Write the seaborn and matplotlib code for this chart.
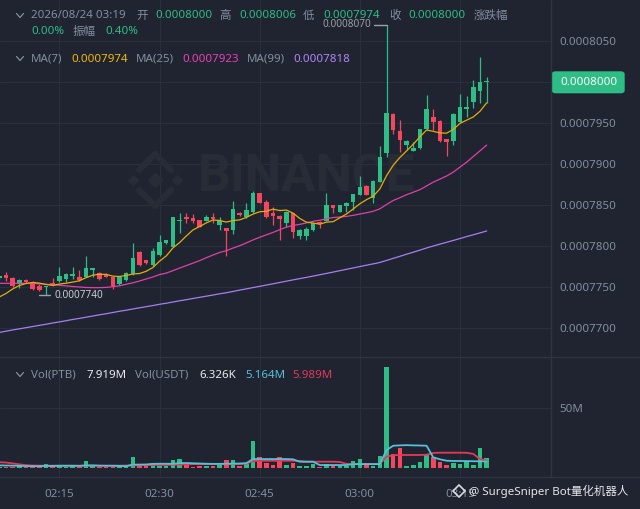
import numpy as np
import pandas as pd
import matplotlib
matplotlib.use("Agg")
import matplotlib.pyplot as plt
from matplotlib.lines import Line2D
from matplotlib.patches import FancyBboxPatch
import seaborn as sns

# prices are kept in units of 1e-7 USDT (0.0008000 -> 8000.0)
PRICE_UNIT = 1e-7
start_time = "2026-08-24 02:06"

open_ = [7760.6, 7764.6, 7760.6, 7753.3, 7758.5, 7756.5, 7751.6, 7749.6, 7755.2, 7757.3,
         7759.4, 7763.8, 7762.6, 7762.6, 7770.7, 7766.7, 7765.9, 7761.8, 7753.7, 7758.5,
         7765.6, 7793.1, 7782.9, 7776.8, 7789.0, 7803.3, 7799.1, 7830.1, 7835.0, 7834.5,
         7831.7, 7830.9, 7835.7, 7825.2, 7821.6, 7819.5, 7840.6, 7835.0, 7841.8, 7864.3,
         7854.0, 7839.9, 7836.6, 7827.7, 7839.9, 7812.2, 7812.2, 7819.5, 7829.6, 7830.5,
         7850.0, 7841.8, 7848.8, 7854.0, 7862.2, 7873.2, 7858.2, 7878.4, 7913.8, 7961.0,
         7940.6, 7922.8, 7916.2, 7919.1, 7942.3, 7957.7, 7952.8, 7930.1, 7928.0, 7951.6,
         7966.7, 7976.0, 7989.4, 8000.0]
high_ = [7764.6, 7767.9, 7761.6, 7759.8, 7759.8, 7757.3, 7753.3, 7751.6, 7760.6, 7774.8,
         7766.5, 7774.8, 7770.7, 7788.2, 7773.2, 7767.7, 7767.1, 7762.8, 7764.0, 7767.7,
         7803.3, 7793.9, 7783.5, 7797.2, 7813.4, 7807.9, 7835.6, 7840.6, 7839.9, 7839.0,
         7832.3, 7837.8, 7839.9, 7835.7, 7822.0, 7855.2, 7841.1, 7852.8, 7867.1, 7864.9,
         7856.1, 7847.2, 7837.2, 7842.4, 7840.2, 7820.4, 7823.5, 7828.4, 7830.9, 7864.3,
         7850.6, 7850.6, 7854.0, 7863.8, 7885.4, 7873.8, 7880.2, 7922.0, 8070.0, 7961.6,
         7953.7, 7929.0, 7927.2, 7942.9, 7984.1, 7966.7, 7953.4, 7930.7, 7961.6, 7985.4,
         7982.9, 8002.4, 8030.9, 8006.0]
low_ = [7758.5, 7757.3, 7750.6, 7748.4, 7754.5, 7746.7, 7745.1, 7740.0, 7751.2, 7756.5,
        7755.5, 7759.8, 7757.9, 7761.8, 7762.6, 7759.1, 7761.8, 7747.2, 7752.4, 7757.9,
        7764.9, 7776.2, 7778.3, 7776.2, 7788.4, 7802.7, 7798.5, 7815.5, 7827.7, 7828.4,
        7823.2, 7830.1, 7828.4, 7819.5, 7787.8, 7814.6, 7836.6, 7834.5, 7839.9, 7852.2,
        7833.8, 7825.6, 7807.3, 7823.5, 7809.4, 7808.2, 7807.3, 7818.9, 7821.6, 7829.9,
        7840.6, 7841.5, 7841.8, 7843.9, 7861.6, 7861.6, 7852.8, 7877.8, 7908.2, 7936.6,
        7915.0, 7917.1, 7915.9, 7918.5, 7941.7, 7941.5, 7927.4, 7909.8, 7923.2, 7951.0,
        7957.7, 7967.9, 7974.8, 7974.0]
close_ = [7763.4, 7760.6, 7751.6, 7758.5, 7755.7, 7747.6, 7746.0, 7751.6, 7752.4, 7763.4,
          7765.6, 7765.6, 7758.5, 7772.8, 7772.8, 7759.8, 7762.2, 7751.2, 7762.6, 7766.7,
          7785.7, 7776.8, 7778.9, 7794.3, 7805.2, 7807.3, 7835.0, 7831.7, 7832.6, 7830.9,
          7823.5, 7835.7, 7832.6, 7830.9, 7818.3, 7844.8, 7837.4, 7843.9, 7864.3, 7852.8,
          7835.0, 7836.6, 7832.6, 7841.8, 7817.4, 7819.5, 7820.4, 7827.7, 7826.8, 7850.0,
          7846.0, 7850.0, 7852.1, 7863.0, 7872.3, 7862.2, 7879.6, 7908.2, 7962.6, 7941.5,
          7929.3, 7928.4, 7919.1, 7942.3, 7966.7, 7951.6, 7928.0, 7927.2, 7961.0, 7969.9,
          7969.9, 7994.3, 8000.0, 8000.0]

ma7_head = [7737.8, 7742.1, 7747.6, 7751.8, 7754.3, 7755.5]
ma25_head = [7754.5, 7754.5, 7754.5, 7754.5, 7754.4, 7754.3, 7753.9, 7753.3, 7752.7, 7752.1,
             7751.4, 7750.6, 7750.0, 7749.4, 7749.2, 7749.2, 7749.5, 7750.4, 7751.5, 7753.3,
             7755.1, 7757.3, 7759.8, 7762.2]
ma99 = [7694.6, 7696.1, 7697.6, 7699.0, 7700.4, 7701.8, 7703.2, 7704.6, 7706.1, 7707.4,
        7708.9, 7710.4, 7711.7, 7713.2, 7714.6, 7716.1, 7717.4, 7718.9, 7720.4, 7721.7,
        7723.2, 7724.6, 7726.0, 7727.4, 7728.9, 7730.2, 7731.7, 7733.2, 7734.5, 7736.0,
        7737.4, 7738.8, 7740.2, 7741.7, 7743.0, 7744.6, 7746.2, 7747.7, 7749.3, 7750.8,
        7752.4, 7753.9, 7755.5, 7757.1, 7758.7, 7760.2, 7761.7, 7763.3, 7764.9, 7766.6,
        7768.2, 7769.9, 7771.6, 7773.2, 7774.9, 7776.6, 7778.2, 7779.9, 7782.4, 7784.9,
        7787.4, 7790.0, 7792.4, 7795.0, 7797.6, 7800.0, 7802.3, 7804.5, 7806.8, 7809.1,
        7811.5, 7813.7, 7816.0, 7818.3]

# volume in millions PTB, plus the two volume averages
volume = [1.0, 0.6, 0.6, 1.1, 0.6, 0.6, 1.4, 3.3, 1.1, 2.5,
          0.6, 1.4, 0.6, 5.3, 1.4, 0.6, 0.3, 0.8, 1.4, 1.4,
          8.6, 1.4, 1.4, 3.9, 1.6, 1.4, 6.1, 7.2, 1.9, 0.8,
          1.1, 1.1, 1.4, 1.9, 6.1, 6.1, 1.1, 3.0, 22.0, 8.6,
          3.6, 2.2, 8.6, 2.2, 3.6, 1.4, 1.4, 3.0, 0.8, 3.0,
          1.4, 1.4, 1.4, 5.5, 7.0, 2.2, 1.4, 9.7, 83.7, 11.1,
          16.7, 1.4, 2.2, 4.4, 10.6, 8.6, 5.0, 2.2, 4.2, 3.0,
          5.0, 2.2, 16.1, 7.919]
vol_ma5 = [1.9, 1.8, 1.7, 1.5, 1.4, 1.3, 1.3, 1.5, 1.5, 1.6,
           1.6, 1.6, 1.5, 1.9, 1.9, 1.7, 1.6, 1.6, 1.5, 1.3,
           2.5, 2.6, 2.7, 3.2, 3.3, 3.3, 3.2, 3.8, 3.9, 3.7,
           3.5, 3.3, 3.2, 3.2, 3.3, 3.4, 3.5, 3.8, 7.2, 7.2,
           7.2, 7.2, 7.2, 7.2, 7.0, 5.0, 5.0, 5.0, 2.2, 2.2,
           2.2, 2.2, 2.2, 3.0, 3.0, 3.0, 3.0, 3.0, 14.7, 18.3,
           18.6, 18.8, 18.6, 18.5, 18.3, 8.6, 7.0, 5.8, 5.6, 5.6,
           5.5, 5.4, 5.3, 5.164]
vol_ma10 = [4.6, 4.3, 3.6, 2.8, 2.1, 1.8, 1.7, 1.7, 1.7, 1.7,
            1.7, 1.7, 1.7, 1.7, 1.7, 1.7, 1.7, 1.7, 1.7, 1.8,
            1.9, 2.1, 2.2, 2.2, 2.3, 2.3, 2.4, 2.6, 2.8, 3.0,
            3.0, 3.0, 3.1, 3.1, 3.0, 3.0, 3.1, 3.3, 5.5, 5.8,
            5.8, 5.8, 5.8, 5.8, 5.8, 5.6, 5.0, 5.0, 5.0, 5.0,
            5.0, 4.8, 3.2, 3.0, 3.0, 3.0, 3.0, 3.1, 9.2, 10.4,
            10.6, 10.6, 10.6, 10.6, 10.8, 12.3, 12.5, 12.5, 12.5, 12.5,
            12.4, 11.5, 7.2, 5.989]

price_ticks = [7700, 7750, 7800, 7850, 7900, 7950, 8000, 8050]

BG = "#1f2430"
GRID = "#2a303b"
SEP = "#2f3540"
GRAY = "#848e9c"
WHITE = "#eaecef"
GREEN = "#2ebd85"
RED = "#f6465d"
YELLOW = "#f0b90b"
PINK = "#eb40b5"
PURPLE = "#b385f8"
CYAN = "#56c0d9"
VRED = "#e23a5a"
WATER = "#272c37"

W, H = 640, 509
FS = 8.3


def fx(px):
    return px / W


def fy(py):
    return 1 - py / H


def main():
    sns.set_theme(style="dark", rc={"axes.facecolor": BG, "figure.facecolor": BG,
                                    "grid.color": GRID, "text.color": GRAY})
    plt.rcParams["font.family"] = ["Noto Sans", "Noto Sans CJK SC", "DejaVu Sans"]

    times = pd.date_range(start_time, periods=len(open_), freq="min")
    df = pd.DataFrame({"open": open_, "high": high_, "low": low_, "close": close_}) * PRICE_UNIT
    df["ma7"] = df["close"].rolling(7).mean()
    df.loc[:5, "ma7"] = np.array(ma7_head) * PRICE_UNIT
    df["ma25"] = df["close"].rolling(25).mean()
    df.loc[:23, "ma25"] = np.array(ma25_head) * PRICE_UNIT
    df["ma99"] = np.array(ma99) * PRICE_UNIT
    df["vol"] = volume
    df["vol_ma5"] = vol_ma5
    df["vol_ma10"] = vol_ma10
    idx = np.arange(len(df))
    colors = np.where(df["close"] >= df["open"], GREEN, RED)

    fig = plt.figure(figsize=(6.4, 5.09), dpi=100)
    ax = fig.add_axes([0, fy(356.7), fx(550.5), 356.7 / H])
    axv = fig.add_axes([0, fy(476.7), fx(550.5), 120 / H])
    xlim = (0.105, 82.56)
    tick_idx = [i for i, t in enumerate(times) if t.minute % 15 == 0]

    # ---- price panel
    ax.set_axisbelow(True)
    ax.vlines(idx, df["low"], df["high"], colors=colors, lw=0.9, zorder=3)
    body = (df["close"] - df["open"]).abs().clip(lower=0.9 * PRICE_UNIT)
    ax.bar(idx, body, bottom=df[["open", "close"]].min(axis=1), width=0.68,
           color=colors, lw=0, zorder=3)
    sns.lineplot(x=idx, y=df["ma99"], ax=ax, color="#a77ef0", lw=0.9, zorder=4)
    sns.lineplot(x=idx, y=df["ma25"], ax=ax, color="#e040a8", lw=0.9, zorder=4)
    sns.lineplot(x=idx, y=df["ma7"], ax=ax, color="#e3ad0b", lw=0.9, zorder=4)

    ax.set_xlim(*xlim)
    ax.set_ylim(7665 * PRICE_UNIT, 8100 * PRICE_UNIT)
    ax.set_xticks(tick_idx)
    ax.set_yticks([p * PRICE_UNIT for p in price_ticks])
    ax.set_yticklabels([f"{p * PRICE_UNIT:.7f}" for p in price_ticks])
    ax.yaxis.tick_right()
    ax.tick_params(axis="y", length=0, pad=6.3, labelsize=FS, labelcolor=GRAY)
    ax.tick_params(axis="x", length=0, labelbottom=False)
    ax.grid(True, color=GRID, lw=0.8)
    ax.set_xlabel("")
    ax.set_ylabel("")

    # highest / lowest markers
    hi_i = int(df["high"].idxmax())
    lo_i = int(df["low"].idxmin())
    hi, lo = df["high"][hi_i], df["low"][lo_i]
    ax.plot([hi_i - 1.85, hi_i], [hi, hi], color="#9aa0a8", lw=1.0, zorder=5)
    ax.text(hi_i - 2.3, hi, f"{hi:.7f}", color="#9aa0a8", fontsize=7.2,
            ha="right", va="center", zorder=5)
    ax.plot([lo_i - 1.0, lo_i + 0.6], [lo, lo], color="#9aa0a8", lw=1.0, zorder=5)
    ax.text(lo_i + 1.2, lo, f"{lo:.7f}", color="#c9cdd3", fontsize=7.2,
            ha="left", va="center", zorder=5)

    # faint exchange watermark behind the candles
    ax.text(fx(198), fy(178), "BINANCE", transform=fig.transFigure, fontsize=37,
            fontweight="bold", family="Roboto", color=WATER, ha="left", va="center", zorder=1)
    for pts in ([(139, 170), (155, 154), (171, 170)], [(139, 190), (155, 206), (171, 190)]):
        ax.add_line(Line2D([fx(p[0]) for p in pts], [fy(p[1]) for p in pts], color=WATER,
                           lw=4.5, transform=fig.transFigure, zorder=1))
    ax.add_line(Line2D([fx(155)], [fy(180)], marker="D", ms=7, color=WATER, lw=0,
                       transform=fig.transFigure, zorder=1))
    ax.add_line(Line2D([fx(133), fx(177)], [fy(180)] * 2, marker="D", ms=5, color=WATER, lw=0,
                       transform=fig.transFigure, zorder=1))

    # ---- volume panel
    axv.set_axisbelow(True)
    axv.bar(idx, df["vol"], width=0.68, color=colors, lw=0, zorder=3)
    sns.lineplot(x=idx, y=df["vol_ma10"], ax=axv, color=VRED, lw=1.3, zorder=4)
    sns.lineplot(x=idx, y=df["vol_ma5"], ax=axv, color=CYAN, lw=1.3, zorder=4)
    axv.set_xlim(*xlim)
    axv.set_ylim(-7.5, 92.5)
    axv.set_xticks(tick_idx)
    axv.set_xticklabels([t.strftime("%H:%M") for t in times[tick_idx]])
    axv.set_yticks([50])
    axv.set_yticklabels(["50M"])
    axv.yaxis.tick_right()
    axv.tick_params(axis="y", length=0, pad=6.3, labelsize=FS, labelcolor=GRAY)
    axv.tick_params(axis="x", length=0, pad=8.6, labelsize=FS, labelcolor=GRAY)
    axv.grid(True, color=GRID, lw=0.8)
    axv.set_xlabel("")
    axv.set_ylabel("")

    for a in (ax, axv):
        for s in a.spines.values():
            s.set_visible(False)

    # panel separators
    for y in (356.7, 476.7):
        fig.add_artist(Line2D([0, 1], [fy(y)] * 2, color=SEP, lw=1.0, transform=fig.transFigure))
    fig.add_artist(Line2D([fx(551.2)] * 2, [fy(476.7), 1], color=SEP, lw=1.0,
                          transform=fig.transFigure))

    # last price tag
    fig.add_artist(FancyBboxPatch((fx(551.7), fy(93.3)), fx(73), 22 / H,
                                  boxstyle="round,pad=0,rounding_size=0.006",
                                  transform=fig.transFigure, fc=GREEN, ec="none"))
    fig.text(fx(560.5), fy(82.3), "0.0008000", color="white", fontsize=FS, va="center")

    # legend rows
    def put(x, y, s, color):
        fig.text(fx(x), fy(y), s, color=color, fontsize=FS, ha="left", va="center")

    def chevron(x, y):
        fig.add_artist(Line2D([fx(x - 3.5), fx(x), fx(x + 3.5)], [fy(y - 2), fy(y + 2), fy(y - 2)],
                              color=GRAY, lw=0.9, transform=fig.transFigure))

    chevron(20, 15.5)
    for x, s, c in [(31, "2026/08/24 03:19", GRAY), (136, "开", GRAY), (155, "0.0008000", GREEN),
                    (219, "高", GRAY), (239, "0.0008006", GREEN), (303, "低", GRAY),
                    (323, "0.0007974", GREEN), (389, "收", GRAY), (408, "0.0008000", GREEN),
                    (474, "涨跌幅", GRAY)]:
        put(x, 16, s, c)
    for x, s, c in [(31, "0.00%", GREEN), (73, "振幅", GRAY), (105, "0.40%", GREEN)]:
        put(x, 32, s, c)
    chevron(20, 58.5)
    for x, s, c in [(31, "MA(7)", GRAY), (71, "0.0007974", YELLOW), (136, "MA(25)", GRAY),
                    (182, "0.0007923", PINK), (247, "MA(99)", GRAY), (293, "0.0007818", PURPLE)]:
        put(x, 59, s, c)
    chevron(20, 374.5)
    for x, s, c in [(31, "Vol(PTB)", GRAY), (87, "7.919M", WHITE), (135, "Vol(USDT)", GRAY),
                    (199, "6.326K", WHITE), (245, "5.164M", CYAN), (292, "5.989M", VRED)]:
        put(x, 375, s, c)

    # bottom-right watermark
    fig.add_artist(Line2D([fx(459)], [fy(491)], marker="D", ms=6.5, mfc="none", mec="#d8dbe0",
                          mew=1.2, lw=0, transform=fig.transFigure))
    fig.text(fx(469), fy(491), "@ SurgeSniper Bot量化机器人", color="#e3e5e8",
             fontsize=8.3, ha="left", va="center")

    fig.savefig("out.png", dpi=100, facecolor=BG)


if __name__ == "__main__":
    main()
